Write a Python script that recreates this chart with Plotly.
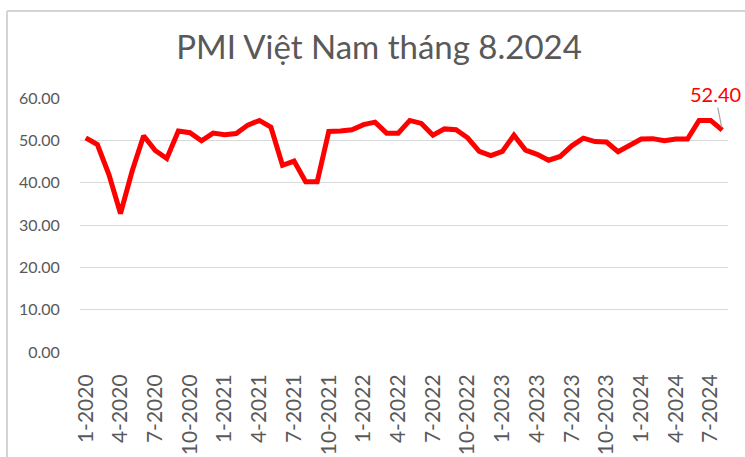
import plotly.graph_objects as go

months = [f"{m}-{y}" for y in range(2020, 2025) for m in range(1, 13)][:56]

pmi = [
    50.6, 49.0, 41.9, 32.7, 42.7, 51.1, 47.6, 45.7, 52.2, 51.8, 49.9, 51.7,
    51.3, 51.6, 53.6, 54.7, 53.1, 44.1, 45.1, 40.2, 40.2, 52.1, 52.2, 52.5,
    53.7, 54.3, 51.7, 51.7, 54.7, 54.0, 51.2, 52.7, 52.5, 50.6, 47.4, 46.4,
    47.4, 51.2, 47.7, 46.7, 45.3, 46.2, 48.7, 50.5, 49.7, 49.6, 47.3, 48.9,
    50.3, 50.4, 49.9, 50.3, 50.3, 54.7, 54.7, 52.4,
]

tick_labels = months[::3]
y_ticks = [0, 10, 20, 30, 40, 50, 60]
title_text = "PMI Việt Nam tháng 8.2024"

FONT = "Lato"
GRAY = "#595959"

W, H = 745, 457
L, R, T, B = 80, 17, 98, 105
pw, ph = W - L - R, H - T - B

def px2paper(x, y):
    return (x - L) / pw, (H - B - y) / ph

fig = go.Figure()
fig.add_trace(go.Scatter(
    x=months, y=pmi, mode="lines",
    line=dict(color="#FF0000", width=5),
    hoverinfo="x+y",
))

# chart border (top and left edges visible in the frame)
bx0, by0 = px2paper(7, 11)
bx1, by1 = px2paper(745, 457)
border = dict(color="#D4D4D4", width=2)
fig.add_shape(type="line", xref="paper", yref="paper",
              x0=bx0, y0=by0, x1=bx1, y1=by0, line=border, layer="above")
fig.add_shape(type="line", xref="paper", yref="paper",
              x0=bx0, y0=by0, x1=bx0, y1=by1, line=border, layer="above")

fig.add_annotation(
    x=months[-1], y=pmi[-1], xref="x", yref="y",
    text=f"{pmi[-1]:.2f}", showarrow=True, arrowhead=0,
    arrowcolor="#A6A6A6", arrowwidth=1.2, ax=-7, ay=-36, standoff=3,
    font=dict(family=FONT, size=20, color="#FF0000"),
)

fig.update_layout(
    width=W, height=H,
    margin=dict(l=L, r=R, t=T, b=B, autoexpand=False),
    paper_bgcolor="white", plot_bgcolor="white",
    showlegend=False,
    title=dict(text=title_text, x=379 / W, xanchor="center",
               y=1 - 47 / H, yanchor="middle", xref="container", yref="container",
               font=dict(family=FONT, size=33, color=GRAY)),
    xaxis=dict(
        type="category", range=[-0.5, len(months) - 0.5], automargin=False,
        tickmode="array", tickvals=tick_labels, ticktext=tick_labels,
        tickangle=-90, showgrid=False, zeroline=False, showline=False,
        ticks="outside", ticklen=13, tickcolor="rgba(0,0,0,0)",
        tickfont=dict(family=FONT, size=21, color=GRAY),
    ),
    yaxis=dict(
        range=[0, 60], tickmode="array", tickvals=y_ticks, automargin=False,
        ticktext=[f"{v:.2f}" for v in y_ticks],
        showgrid=True, gridcolor="#D9D9D9", gridwidth=1.2,
        zeroline=False, showline=False,
        ticks="outside", ticklen=16, tickcolor="rgba(0,0,0,0)",
        tickfont=dict(family=FONT, size=16, color=GRAY),
    ),
)

fig.write_html(
    "out.html",
    config={"displayModeBar": False},
    post_script="document.body.style.margin='0';document.body.style.padding='0';document.body.style.overflow='hidden';",
)
